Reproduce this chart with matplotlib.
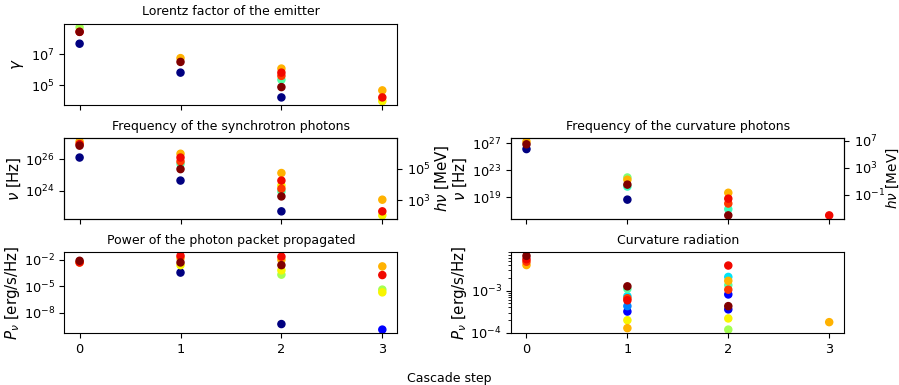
import numpy as np
import matplotlib
matplotlib.use('Agg')
import matplotlib.pyplot as plt

# Planck constant in MeV s
h_mev = 4.135667e-21

# Lorentz factor of the emitter: step, value, colour (fraction of jet colormap)
gam_step = [0, 0, 0, 0, 1, 1, 1, 2, 2, 2, 2, 2, 2, 3, 3, 3]
gam_val = [4.7e7, 5.2e8, 2.7e8, 2.7e8, 6.6e5, 5.6e6, 3.2e6,
           1.7e4, 2.3e5, 1.2e6, 4.1e5, 6.6e5, 7.8e4, 9.8e3, 4.8e4, 1.7e4]
gam_col = [0.0, 0.55, 0.9, 1.0, 0.0, 0.72, 1.0,
           0.0, 0.45, 0.72, 0.85, 0.9, 1.0, 0.65, 0.72, 0.9]

# synchrotron photon frequency [Hz]
syn_step = [0, 0, 0, 0, 1, 1, 1, 1, 1, 1, 2, 2, 2, 2, 2, 2, 2, 3, 3, 3]
syn_val = [1.26e26, 1.3e27, 9.0e26, 7.2e26,
           4.3e24, 5.0e25, 2.2e26, 7.1e25, 1.26e26, 2.3e25,
           4.7e22, 8.7e23, 2.1e24, 1.3e25, 1.3e24, 4.3e24, 4.2e23,
           2.6e22, 2.6e23, 4.7e22]
syn_col = [0.0, 0.72, 0.9, 1.0,
           0.0, 0.45, 0.72, 0.85, 0.9, 1.0,
           0.0, 0.45, 0.65, 0.72, 0.85, 0.9, 1.0,
           0.65, 0.72, 0.9]

# curvature photon frequency [Hz]
cur_step = [0, 0, 0, 1, 1, 1, 1, 1, 2, 2, 2, 2, 2, 3]
cur_val = [1.4e26, 1.8e27, 7.2e26,
           4.2e18, 3.7e20, 8.3e21, 3.9e21, 7.2e20,
           1.6e17, 4.4e19, 1.1e18, 5.9e18, 1.9e16,
           1.9e16]
cur_col = [0.0, 0.72, 1.0,
           0.0, 0.42, 0.5, 0.72, 1.0,
           0.42, 0.72, 0.85, 0.9, 1.0,
           0.9]

# power of the propagated photon packet [erg/s/Hz]
pow_step = [0, 0, 0, 1, 1, 1, 1, 1, 2, 2, 2, 2, 2, 2, 3, 3, 3, 3, 3]
pow_val = [5.0e-3, 5.0e-3, 7.8e-3,
           3.6e-4, 2.5e-3, 1.5e-2, 2.8e-2, 5.0e-3,
           5.5e-10, 2.1e-4, 6.5e-4, 1.0e-2, 2.3e-2, 2.5e-3,
           1.3e-10, 4.3e-6, 2.1e-6, 1.8e-3, 1.9e-4]
pow_col = [0.72, 0.9, 1.0,
           0.0, 0.65, 0.72, 0.9, 1.0,
           0.0, 0.55, 0.65, 0.72, 0.9, 1.0,
           0.12, 0.55, 0.65, 0.72, 0.9]

# curvature radiation [erg/s/Hz]
crv_step = [0, 0, 0, 0,
            1, 1, 1, 1, 1, 1, 1, 1, 1,
            2, 2, 2, 2, 2, 2, 2, 2, 2, 2,
            3]
crv_val = [4.0e-3, 4.8e-3, 5.5e-3, 6.6e-3,
           3.2e-4, 4.3e-4, 7.4e-4, 1.1e-3, 2.0e-4, 1.3e-4, 6.6e-4, 5.9e-4, 1.26e-3,
           3.6e-4, 8.1e-4, 2.1e-3, 1.35e-3, 1.2e-4, 2.2e-4, 1.7e-3, 1.05e-3, 3.9e-3, 4.3e-4,
           1.8e-4]
crv_col = [0.72, 0.85, 0.9, 1.0,
           0.12, 0.25, 0.35, 0.45, 0.65, 0.72, 0.85, 0.9, 1.0,
           0.1, 0.12, 0.35, 0.45, 0.55, 0.65, 0.72, 0.85, 0.9, 1.0,
           0.72]

plt.rcParams['font.size'] = 9.3
lab_fs = 10.8

fig, axes = plt.subplots(3, 2, sharex=True, figsize=(8.99, 3.85), dpi=100)
fig.subplots_adjust(left=0.0717, right=0.9392, bottom=0.1343, top=0.9384,
                    hspace=0.408, wspace=0.342)


def dots(ax, x, y, c):
    ax.scatter(x, y, c=c, cmap='jet', vmin=0, vmax=1, s=26)
    ax.set_yscale('log')


# Lorentz factor
ax = axes[0, 0]
dots(ax, gam_step, gam_val, gam_col)
ax.set_title('Lorentz factor of the emitter', fontsize=9)
ax.set_ylabel(r'$\gamma$', fontsize=lab_fs)

axes[0, 1].axis('off')

# synchrotron frequency
ax = axes[1, 0]
dots(ax, syn_step, syn_val, syn_col)
ax.set_title('Frequency of the synchrotron photons', fontsize=9)
ax.set_ylabel(r'$\nu$ [Hz]', fontsize=lab_fs, labelpad=2)
ax2 = ax.twinx()
ax2.set_yscale('log')
ax2.set_ylim(np.array(ax.get_ylim()) * h_mev)
ax2.set_ylabel(r'$h\nu$ [MeV]', fontsize=lab_fs, labelpad=2)

# curvature frequency
ax = axes[1, 1]
dots(ax, cur_step, cur_val, cur_col)
ax.set_title('Frequency of the curvature photons', fontsize=9)
ax.set_ylabel(r'$\nu$ [Hz]', fontsize=lab_fs, labelpad=2)
ax2 = ax.twinx()
ax2.set_yscale('log')
ax2.set_ylim(np.array(ax.get_ylim()) * h_mev)
ax2.set_ylabel(r'$h\nu$ [MeV]', fontsize=9.8)
ax2.yaxis.set_label_coords(1.12, 0.5)

# power of propagated packet
ax = axes[2, 0]
dots(ax, pow_step, pow_val, pow_col)
ax.set_title('Power of the photon packet propagated', fontsize=9)
ax.set_ylabel(r'$P_\nu$ [erg/s/Hz]', fontsize=lab_fs, labelpad=1)

# curvature radiation
ax = axes[2, 1]
dots(ax, crv_step, crv_val, crv_col)
ax.set_title('Curvature radiation', fontsize=9)
ax.set_ylabel(r'$P_\nu$ [erg/s/Hz]', fontsize=lab_fs, labelpad=1)

ax.set_xticks([0, 1, 2, 3])
axes[2, 0].tick_params(labelbottom=True)

fig.text(0.5, 0.018, 'Cascade step', ha='center', va='center', fontsize=9)

fig.savefig('out.png', dpi=100)
